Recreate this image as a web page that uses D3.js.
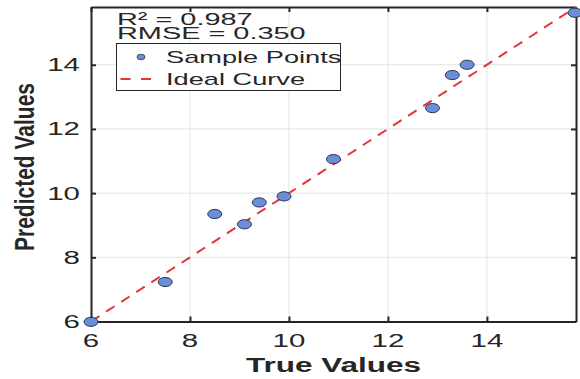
<!DOCTYPE html>
<html>
<head>
<meta charset="utf-8">
<script src="https://cdn.jsdelivr.net/npm/d3@7"></script>
<style>
  body { margin: 0; background: #fff; }
  text { font-family: "Liberation Sans", Arial, sans-serif; fill: #262626; }
</style>
</head>
<body>
<svg id="chart" width="580" height="379"></svg>
<script>
// data
const trueVals = [6.0, 7.5, 8.5, 9.1, 9.4, 9.9, 10.9, 12.9, 13.3, 13.6, 15.78];
const predVals = [5.99, 7.23, 9.35, 9.03, 9.71, 9.9, 11.06, 12.65, 13.68, 14.0, 15.62];
const ticks = [6, 8, 10, 12, 14];
const statLines = ["R\u00b2 = 0.987", "RMSE = 0.350"];
const legendLabels = ["Sample Points", "Ideal Curve"];
const axisLabels = {x: "True Values", y: "Predicted Values"};

let plotLeft = 91, plotRight = 576, plotTop = 7, plotBottom = 321.5;
let lo = 6, hi = 15.8;
let sx = 1.55; // text in the reference is stretched sideways

let svg = d3.select("#chart");

let xScale = d3.scaleLinear().domain([lo, hi]).range([plotLeft, plotRight]);
let yScale = d3.scaleLinear().domain([lo, hi]).range([plotBottom, plotTop]);

// grid
let grid = svg.append("g").attr("stroke", "#e3e3e3").attr("stroke-width", 1);
grid.selectAll(".gx").data(ticks.slice(1)).enter().append("line")
    .attr("x1", d => xScale(d)).attr("x2", d => xScale(d))
    .attr("y1", plotTop).attr("y2", plotBottom);
grid.selectAll(".gy").data(ticks.slice(1)).enter().append("line")
    .attr("y1", d => yScale(d)).attr("y2", d => yScale(d))
    .attr("x1", plotLeft).attr("x2", plotRight);

// axes with inward ticks, mirrored on top/right
let xAxis = d3.axisBottom(xScale).tickValues(ticks).tickSizeInner(-5).tickSizeOuter(0).tickFormat("");
let yAxis = d3.axisLeft(yScale).tickValues(ticks).tickSizeInner(-5).tickSizeOuter(0).tickFormat("");
let xTop = d3.axisTop(xScale).tickValues(ticks).tickSizeInner(-5).tickSizeOuter(0).tickFormat("");
let yRight = d3.axisRight(yScale).tickValues(ticks).tickSizeInner(-5).tickSizeOuter(0).tickFormat("");

svg.append("g").attr("transform", "translate(0," + plotBottom + ")").call(xAxis);
svg.append("g").attr("transform", "translate(" + plotLeft + ",0)").call(yAxis);
svg.append("g").attr("transform", "translate(0," + plotTop + ")").call(xTop);
svg.append("g").attr("transform", "translate(" + plotRight + ",0)").call(yRight);
svg.selectAll(".domain").attr("stroke", "#262626").attr("stroke-width", 2);
svg.selectAll(".tick line").attr("stroke", "#262626").attr("stroke-width", 2);

// tick labels
svg.selectAll(".xlab").data(ticks).enter().append("text")
    .attr("text-anchor", "middle").attr("font-size", 19)
    .attr("transform", d => "translate(" + xScale(d) + ",347) scale(" + sx + ",1)")
    .text(d => d);
svg.selectAll(".ylab").data(ticks).enter().append("text")
    .attr("text-anchor", "end").attr("font-size", 19)
    .attr("transform", d => "translate(80," + (yScale(d) + 6.5) + ") scale(" + sx + ",1)")
    .text(d => d);

// axis titles
svg.append("text").attr("text-anchor", "middle").attr("font-size", 21).attr("font-weight", "bold")
    .attr("transform", "translate(" + (plotLeft + plotRight) / 2 + ",372) scale(1.5,1)")
    .text(axisLabels.x);
svg.append("text").attr("text-anchor", "middle").attr("font-size", 21).attr("font-weight", "bold")
    .attr("transform", "translate(34,167) scale(1.3,1) rotate(-90)")
    .text(axisLabels.y);

// ideal line
svg.append("line")
    .attr("x1", xScale(lo)).attr("y1", yScale(lo))
    .attr("x2", xScale(hi)).attr("y2", yScale(hi))
    .attr("stroke", "#e8323a").attr("stroke-width", 2)
    .attr("stroke-dasharray", "10,8");

// points
svg.append("g")
    .selectAll("ellipse").data(trueVals).enter().append("ellipse")
    .attr("cx", d => xScale(d))
    .attr("cy", (d, i) => yScale(predVals[i]))
    .attr("rx", 7).attr("ry", 4.6)
    .attr("fill", "#6a8fd9").attr("stroke", "#2c3550").attr("stroke-width", 1);

// stats text
svg.selectAll(".stat").data(statLines).enter().append("text")
    .attr("font-size", 17)
    .attr("transform", (d, i) => "translate(117," + (25 + i * 14) + ") scale(1.7,1)")
    .text(d => d);

// legend
let lg = svg.append("g");
lg.append("rect").attr("x", 116.5).attr("y", 43.5).attr("width", 224).attr("height", 47)
    .attr("fill", "#fff").attr("stroke", "#262626").attr("stroke-width", 1);
lg.append("ellipse").attr("cx", 141).attr("cy", 57).attr("rx", 4).attr("ry", 2.8)
    .attr("fill", "#6a8fd9").attr("stroke", "#2c3550").attr("stroke-width", 0.8);
lg.append("line").attr("x1", 120.5).attr("x2", 152).attr("y1", 79).attr("y2", 79)
    .attr("stroke", "#e8323a").attr("stroke-width", 2).attr("stroke-dasharray", "10,10.5");
lg.selectAll(".leg").data(legendLabels).enter().append("text")
    .attr("font-size", 17)
    .attr("transform", (d, i) => "translate(166," + (63 + i * 22) + ") scale(1.6,1)")
    .text(d => d);
</script>
</body>
</html>
